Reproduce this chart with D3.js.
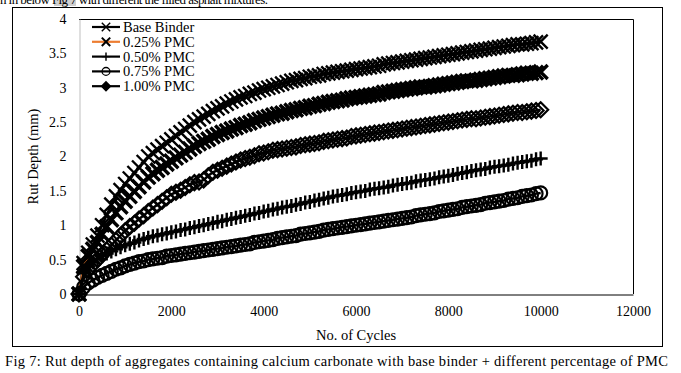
<!DOCTYPE html>
<html>
<head>
<meta charset="utf-8">
<script src="https://cdn.jsdelivr.net/npm/d3@7"></script>
<style>
  body { margin: 0; background: #fff; }
  svg { display: block; }
  text { font-family: "Liberation Serif", "Times New Roman", serif; fill: #000; }
</style>
</head>
<body>
<div id="chart"></div>
<script>
// cycles sampled every 100 up to 10000
const cycles = d3.range(0, 10001, 100);

const baseBinder = [
  0, 0.45, 0.6, 0.72, 0.85, 1.0, 1.15, 1.3, 1.42, 1.51, 1.6,
  1.68, 1.76, 1.84, 1.92, 2.0, 2.05, 2.1, 2.15, 2.2, 2.25,
  2.3, 2.35, 2.4, 2.45, 2.5, 2.54, 2.58, 2.62, 2.66, 2.7,
  2.73, 2.77, 2.8, 2.83, 2.86, 2.88, 2.91, 2.93, 2.96, 2.98,
  3.0, 3.02, 3.04, 3.06, 3.08, 3.1, 3.11, 3.13, 3.14, 3.16,
  3.17, 3.18, 3.2, 3.21, 3.22, 3.23, 3.24, 3.25, 3.26, 3.27,
  3.28, 3.29, 3.3, 3.31, 3.32, 3.34, 3.35, 3.36, 3.37, 3.38,
  3.39, 3.4, 3.41, 3.42, 3.43, 3.44, 3.45, 3.46, 3.47, 3.48,
  3.49, 3.5, 3.51, 3.52, 3.53, 3.54, 3.55, 3.56, 3.57, 3.58,
  3.59, 3.6, 3.61, 3.62, 3.63, 3.63, 3.64, 3.65, 3.66, 3.67
];

const pmc025 = [
  0, 0.4, 0.55, 0.65, 0.75, 0.87, 0.98, 1.08, 1.18, 1.27, 1.35,
  1.42, 1.49, 1.56, 1.63, 1.7, 1.75, 1.8, 1.84, 1.89, 1.93,
  1.98, 2.02, 2.06, 2.11, 2.15, 2.19, 2.22, 2.25, 2.29, 2.32,
  2.35, 2.37, 2.4, 2.42, 2.45, 2.47, 2.49, 2.52, 2.54, 2.56,
  2.58, 2.6, 2.62, 2.63, 2.65, 2.67, 2.68, 2.7, 2.71, 2.73,
  2.74, 2.76, 2.77, 2.79, 2.8, 2.81, 2.82, 2.84, 2.85, 2.86,
  2.87, 2.88, 2.89, 2.9, 2.91, 2.93, 2.94, 2.95, 2.96, 2.97,
  2.98, 2.99, 3.0, 3.01, 3.01, 3.02, 3.03, 3.04, 3.05, 3.06,
  3.07, 3.08, 3.09, 3.1, 3.1, 3.11, 3.12, 3.13, 3.14, 3.15,
  3.16, 3.17, 3.18, 3.18, 3.19, 3.2, 3.21, 3.21, 3.22, 3.23
];

const pmc050 = [
  0, 0.3, 0.4, 0.46, 0.51, 0.55, 0.59, 0.62, 0.65, 0.68, 0.71,
  0.73, 0.75, 0.78, 0.8, 0.82, 0.84, 0.85, 0.87, 0.88, 0.9,
  0.91, 0.93, 0.94, 0.96, 0.97, 0.99, 1.0, 1.02, 1.03, 1.05,
  1.06, 1.08, 1.09, 1.11, 1.12, 1.14, 1.15, 1.17, 1.18, 1.2,
  1.21, 1.23, 1.24, 1.26, 1.27, 1.28, 1.3, 1.31, 1.33, 1.34,
  1.36, 1.37, 1.39, 1.4, 1.42, 1.43, 1.44, 1.45, 1.47, 1.48,
  1.49, 1.5, 1.52, 1.53, 1.54, 1.55, 1.56, 1.58, 1.59, 1.6,
  1.61, 1.62, 1.64, 1.65, 1.66, 1.67, 1.68, 1.7, 1.71, 1.72,
  1.73, 1.75, 1.76, 1.77, 1.79, 1.8, 1.81, 1.82, 1.84, 1.85,
  1.86, 1.87, 1.88, 1.9, 1.91, 1.92, 1.93, 1.94, 1.96, 1.97
];

const pmc075 = [
  0, 0.1, 0.16, 0.2, 0.24, 0.27, 0.3, 0.33, 0.36, 0.38, 0.41,
  0.43, 0.45, 0.47, 0.48, 0.5, 0.51, 0.52, 0.53, 0.55, 0.56,
  0.57, 0.58, 0.59, 0.6, 0.61, 0.62, 0.63, 0.64, 0.65, 0.66,
  0.67, 0.68, 0.69, 0.7, 0.71, 0.72, 0.73, 0.75, 0.76, 0.77,
  0.78, 0.79, 0.81, 0.82, 0.83, 0.84, 0.85, 0.87, 0.88, 0.89,
  0.9, 0.91, 0.93, 0.94, 0.95, 0.96, 0.97, 0.98, 0.99, 1.0,
  1.01, 1.02, 1.03, 1.04, 1.05, 1.06, 1.07, 1.08, 1.09, 1.1,
  1.11, 1.12, 1.14, 1.15, 1.16, 1.17, 1.18, 1.2, 1.21, 1.22,
  1.23, 1.24, 1.26, 1.27, 1.28, 1.29, 1.3, 1.32, 1.33, 1.34,
  1.35, 1.36, 1.38, 1.39, 1.4, 1.42, 1.43, 1.44, 1.46, 1.47
];

const pmc100 = [
  0, 0.25, 0.35, 0.43, 0.5, 0.57, 0.64, 0.71, 0.78, 0.85, 0.92,
  0.98, 1.03, 1.09, 1.14, 1.2, 1.25, 1.3, 1.35, 1.4, 1.45,
  1.48, 1.51, 1.55, 1.59, 1.62, 1.63, 1.66, 1.72, 1.77, 1.8,
  1.83, 1.86, 1.89, 1.92, 1.95, 1.97, 1.99, 2.01, 2.04, 2.05,
  2.07, 2.09, 2.1, 2.11, 2.12, 2.13, 2.14, 2.16, 2.17, 2.18,
  2.19, 2.2, 2.22, 2.23, 2.24, 2.25, 2.26, 2.27, 2.29, 2.3,
  2.31, 2.32, 2.33, 2.34, 2.35, 2.36, 2.37, 2.38, 2.39, 2.4,
  2.41, 2.42, 2.43, 2.44, 2.45, 2.46, 2.47, 2.48, 2.49, 2.5,
  2.51, 2.52, 2.53, 2.54, 2.55, 2.55, 2.56, 2.57, 2.58, 2.59,
  2.6, 2.61, 2.62, 2.63, 2.64, 2.64, 2.65, 2.66, 2.67, 2.68
];

const seriesNames = ['Base Binder', '0.25% PMC', '0.50% PMC', '0.75% PMC', '1.00% PMC'];
const seriesValues = [baseBinder, pmc025, pmc050, pmc075, pmc100];
const seriesLineColors = ['#000', '#ed7d31', '#000', '#000', '#000'];
const seriesMarkers = ['x', 'xbold', 'plus', 'circle', 'diamond'];

const xTicks = [0, 2000, 4000, 6000, 8000, 10000, 12000];
const yTicks = [0, 0.5, 1, 1.5, 2, 2.5, 3, 3.5, 4];
const yTickLabels = ['0', '0.5', '1', '1.5', '2', '2.5', '3', '3.5', '4'];

const width = 681;
const height = 373;
const margin = { top: 19, right: 48, bottom: 79, left: 79 };
const serif = '"Liberation Serif", "Times New Roman", serif';

const svg = d3.select('#chart')
  .append('svg')
  .attr('width', width)
  .attr('height', height);

// text line of the page above, partly cropped like in the source picture
svg.append('rect')
  .attr('x', 54).attr('y', 0).attr('width', 22).attr('height', 6)
  .attr('fill', '#d0d0d0');
svg.append('text')
  .attr('x', 0).attr('y', 4)
  .attr('textLength', 268)
  .attr('font-family', serif)
  .style('font-size', '13px')
  .text('n in below Fig 7 with different the filled asphalt mixtures.');

// chart outer border
svg.append('rect')
  .attr('x', 12.5).attr('y', 7.5)
  .attr('width', 650).attr('height', 339)
  .attr('fill', '#fff')
  .attr('stroke', '#000')
  .attr('stroke-width', 1);

const x = d3.scaleLinear()
  .domain([0, 12000])
  .range([margin.left, width - margin.right]);
const y = d3.scaleLinear()
  .domain([0, 4])
  .range([height - margin.bottom, margin.top]);

// plot area frame
svg.append('path')
  .attr('d', `M${x(0)},${y(4) + 0.5}H${x(12000) + 0.5}V${y(0)}`)
  .attr('fill', 'none')
  .attr('stroke', '#000')
  .attr('stroke-width', 1);

// y axis (light gray, no ticks)
svg.append('g')
  .attr('class', 'axis axis-left')
  .attr('transform', `translate(${x(0) + 0.5},0)`)
  .call(d3.axisLeft(y).tickValues(yTicks).tickSize(0).tickPadding(13)
    .tickFormat((d, i) => yTickLabels[i]))
  .attr('font-family', serif)
  .attr('font-size', 14)
  .call((g) => g.select('.domain').attr('stroke', '#bfbfbf'))
  .call((g) => g.selectAll('text').attr('fill', '#000'));

// x axis
svg.append('g')
  .attr('class', 'axis axis-bottom')
  .attr('transform', `translate(0,${y(0) + 0.5})`)
  .call(d3.axisBottom(x).tickValues(xTicks).tickSize(0).tickPadding(12)
    .tickFormat(d3.format('d')))
  .attr('font-family', serif)
  .attr('font-size', 14)
  .call((g) => g.select('.domain').attr('stroke', '#000'))
  .call((g) => g.selectAll('text').attr('fill', '#000'));

// axis titles
svg.append('text')
  .attr('x', (x(0) + x(12000)) / 2)
  .attr('y', 340)
  .attr('text-anchor', 'middle')
  .attr('font-family', serif)
  .style('font-size', '14.5px')
  .text('No. of Cycles');

svg.append('text')
  .attr('transform', `translate(38,${(y(0) + y(4)) / 2}) rotate(-90)`)
  .attr('text-anchor', 'middle')
  .attr('font-family', serif)
  .style('font-size', '14.5px')
  .text('Rut Depth (mm)');

function markerPath(type) {
  const h = { x: 7, xbold: 7, plus: 7, diamond: 7.5, circle: 6.5 }[type];
  if (type === 'x' || type === 'xbold') {
    return `M${-h},${-h}L${h},${h}M${-h},${h}L${h},${-h}`;
  }
  if (type === 'plus') {
    return `M${-h},0L${h},0M0,${-h}L0,${h}`;
  }
  if (type === 'diamond') {
    return `M0,${-h}L${h},0L0,${h}L${-h},0Z`;
  }
  return d3.arc()({ innerRadius: 0, outerRadius: h, startAngle: 0, endAngle: 2 * Math.PI });
}

function markerWidth(type) {
  return { x: 2.4, xbold: 3.4, plus: 2.4, circle: 2.2, diamond: 2.2 }[type];
}

const lineGen = d3.line()
  .x((d, i) => x(cycles[i]))
  .y((d) => y(d));

seriesValues.forEach((vals, s) => {
  const g = svg.append('g').attr('class', 'series');
  g.append('path')
    .datum(vals)
    .attr('fill', 'none')
    .attr('stroke', seriesLineColors[s])
    .attr('stroke-width', 2.5)
    .attr('d', lineGen);

  g.selectAll('path.marker')
    .data(vals)
    .enter()
    .append('path')
    .attr('class', 'marker')
    .attr('transform', (d, i) => `translate(${x(cycles[i])},${y(d)})`)
    .attr('d', markerPath(seriesMarkers[s]))
    .attr('fill', 'none')
    .attr('stroke', '#000')
    .attr('stroke-width', markerWidth(seriesMarkers[s]));
});

// legend
const legend = svg.append('g')
  .attr('class', 'legend')
  .attr('transform', 'translate(92,27)');

seriesNames.forEach((name, i) => {
  const row = legend.append('g').attr('transform', `translate(0,${i * 14.8})`);
  row.append('line')
    .attr('x1', 0).attr('x2', 28)
    .attr('stroke', seriesLineColors[i])
    .attr('stroke-width', 2.2);
  row.append('path')
    .attr('transform', 'translate(14,0) scale(0.6)')
    .attr('d', markerPath(seriesMarkers[i]))
    .attr('fill', seriesMarkers[i] === 'diamond' ? '#000' : 'none')
    .attr('stroke', '#000')
    .attr('stroke-width', markerWidth(seriesMarkers[i]));
  row.append('text')
    .attr('x', 31)
    .attr('y', 0)
    .attr('dy', '0.35em')
    .attr('font-family', serif)
    .style('font-size', '14.5px')
    .text(name);
});

// figure caption
svg.append('text')
  .attr('x', 5)
  .attr('y', 366)
  .attr('textLength', 663)
  .attr('font-family', serif)
  .style('font-size', '14.5px')
  .text('Fig 7: Rut depth of aggregates containing calcium carbonate with base binder + different percentage of PMC');
</script>
</body>
</html>
